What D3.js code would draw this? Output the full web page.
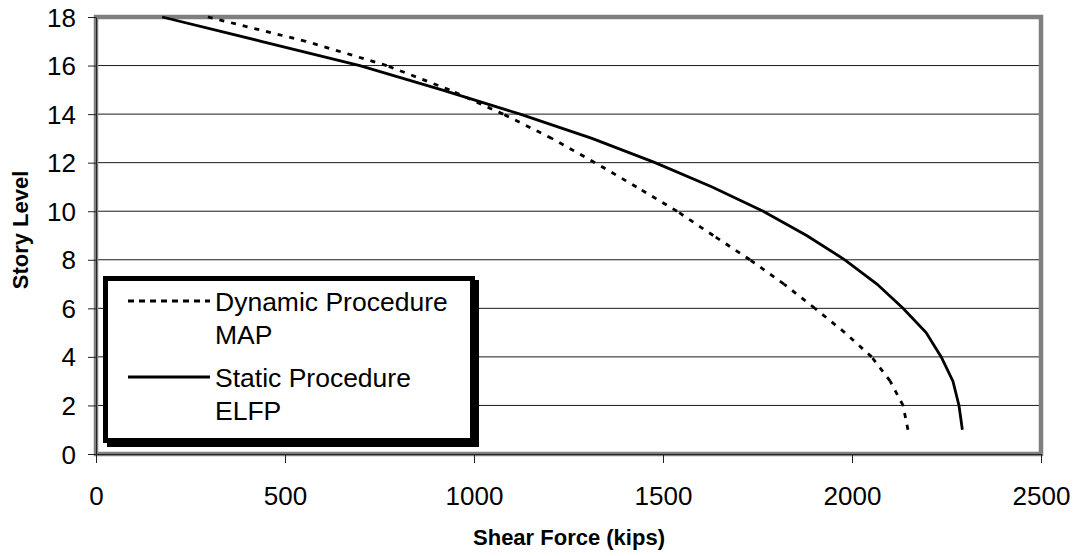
<!DOCTYPE html>
<html>
<head>
<meta charset="utf-8">
<script src="https://cdnjs.cloudflare.com/ajax/libs/d3/7.8.5/d3.min.js"></script>
<style>
  body { margin: 0; background: #fff; }
  svg { display: block; font-family: Arial, "Liberation Sans", sans-serif; }
</style>
</head>
<body>
<div id="chart"></div>
<script>
// story levels and shear (kips)
var levels = [1, 2, 3, 4, 5, 6, 7, 8, 9, 10, 11, 12, 13, 14, 15, 16, 17, 18];
var staticShear = [2292, 2283, 2267, 2236, 2196, 2135, 2066, 1981, 1880, 1765, 1630, 1479, 1312, 1122, 915, 698, 437, 175];
var dynamicShear = [2148, 2135, 2101, 2052, 1981, 1902, 1820, 1730, 1633, 1537, 1430, 1320, 1206, 1077, 935, 769, 555, 296];
var xTicks = [0, 500, 1000, 1500, 2000, 2500];
var yTicks = [0, 2, 4, 6, 8, 10, 12, 14, 16, 18];
var legendLabels = [["Dynamic Procedure", "MAP"], ["Static Procedure", "ELFP"]];

var W = 1076, H = 556,
    m = {t: 17, r: 35, b: 102, l: 96};

var svg = d3.select("#chart")
  .append("svg")
  .attr("width", W)
  .attr("height", H);

var x = d3.scaleLinear().domain([0, 2500]).range([m.l, W - m.r]),
    y = d3.scaleLinear().domain([0, 18]).range([H - m.b, m.t]);

// gridlines
svg.append("g")
  .selectAll("line")
  .data(yTicks.filter(function(d){ return d > 0 && d < 18; }))
  .enter()
  .append("line")
    .attr("x1", x(0))
    .attr("x2", x(2500))
    .attr("y1", function(d){ return y(d); })
    .attr("y2", function(d){ return y(d); })
    .attr("stroke", "#1a1a1a")
    .attr("stroke-width", 1);

// gray plot frame
svg.append("rect")
  .attr("x", x(0))
  .attr("y", y(18))
  .attr("width", x(2500) - x(0))
  .attr("height", y(0) - y(18))
  .attr("fill", "none")
  .attr("stroke", "#7f7f7f")
  .attr("stroke-width", 4.5);

var yAxis = svg.append("g")
  .attr("transform", "translate(" + x(0) + ",0)")
  .call(d3.axisLeft(y).tickValues(yTicks).tickSize(8).tickSizeOuter(0).tickPadding(12));

var xAxis = svg.append("g")
  .attr("transform", "translate(0," + y(0) + ")")
  .call(d3.axisBottom(x).tickValues(xTicks).tickSize(9).tickSizeOuter(0).tickPadding(24).tickFormat(d3.format("d")));

[yAxis, xAxis].forEach(function(a){
  a.selectAll("path").attr("stroke", "#222").attr("stroke-width", 1);
  a.selectAll("line").attr("stroke", "#222").attr("stroke-width", 1);
  a.selectAll("text")
    .attr("fill", "#000")
    .style("font-size", "26px")
    .style("font-family", "Arial, 'Liberation Sans', sans-serif");
});
yAxis.selectAll("text").attr("dy", "0.35em");

// axis titles
svg.append("text")
  .attr("transform", "translate(28," + 230 + ") rotate(-90)")
  .attr("text-anchor", "middle")
  .style("font-size", "22px")
  .style("font-weight", "bold")
  .text("Story Level");

svg.append("text")
  .attr("x", 569)
  .attr("y", 545)
  .attr("text-anchor", "middle")
  .style("font-size", "22px")
  .style("font-weight", "bold")
  .text("Shear Force (kips)");

var line = d3.line()
  .x(function(d){ return x(d.v); })
  .y(function(d){ return y(d.level); });

var dynPts = levels.map(function(l, i){ return {level: l, v: dynamicShear[i]}; }),
    staPts = levels.map(function(l, i){ return {level: l, v: staticShear[i]}; });

// dashed series: each segment restarts its dash pattern, like the original
svg.append("g")
  .selectAll("path")
  .data(d3.pairs(dynPts))
  .enter()
  .append("path")
    .attr("d", line)
    .attr("fill", "none")
    .attr("stroke", "#000")
    .attr("stroke-width", 2.8)
    .attr("stroke-dasharray", "5,7");

svg.append("path")
  .datum(staPts)
  .attr("d", line)
  .attr("fill", "none")
  .attr("stroke", "#000")
  .attr("stroke-width", 2.8);

// legend box with shadow
var lg = svg.append("g");
lg.append("rect")
  .attr("x", 107).attr("y", 280)
  .attr("width", 372).attr("height", 167)
  .attr("fill", "#000");
lg.append("rect")
  .attr("x", 105.5).attr("y", 278.5)
  .attr("width", 367).attr("height", 162)
  .attr("fill", "#fff")
  .attr("stroke", "#000")
  .attr("stroke-width", 5);

var legRows = [{dash: "6,5", y: 301, text: legendLabels[0], base: 311},
               {dash: null, y: 377, text: legendLabels[1], base: 387}];
legRows.forEach(function(r){
  lg.append("line")
    .attr("x1", 128).attr("x2", 210)
    .attr("y1", r.y).attr("y2", r.y)
    .attr("stroke", "#000")
    .attr("stroke-width", 2.8)
    .attr("stroke-dasharray", r.dash);
  r.text.forEach(function(t, i){
    lg.append("text")
      .attr("x", 215)
      .attr("y", r.base + i * 33)
      .style("font-size", "26.5px")
      .text(t);
  });
});
</script>
</body>
</html>
